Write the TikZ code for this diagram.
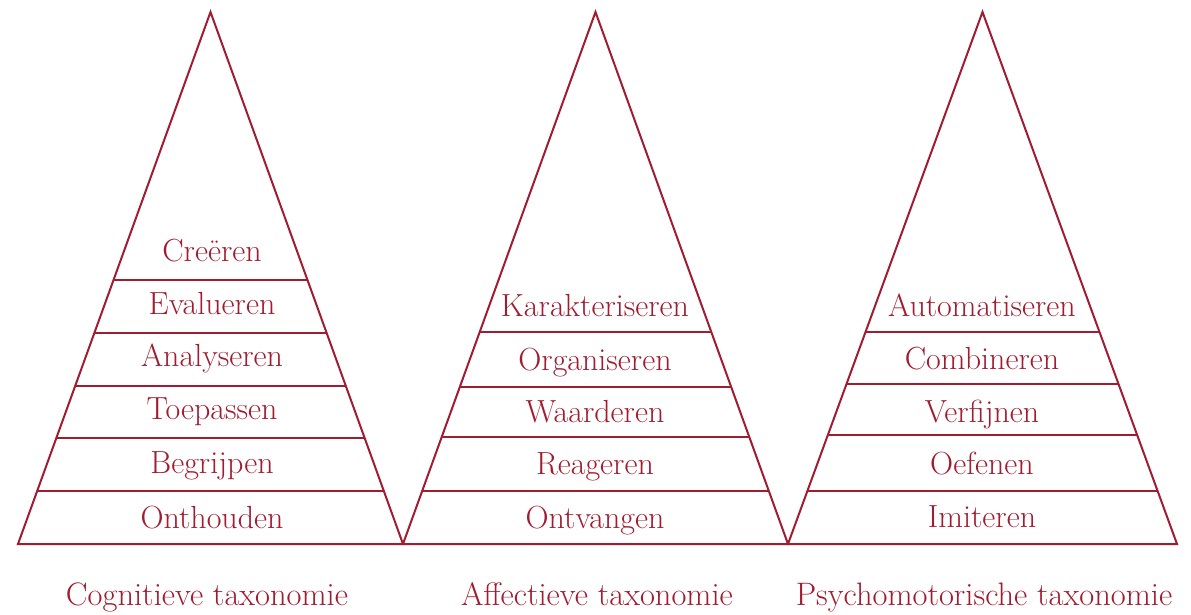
\documentclass[tikz,border=0pt]{standalone}
\usetikzlibrary{calc}
\definecolor{tred}{RGB}{160,28,48}
\begin{document}
\begin{tikzpicture}[x=1pt,y=-1pt,
  edge/.style={draw=tred,line width=2pt,line join=miter},
  band/.style={draw=tred,line width=2pt},
  lvl/.style={text=tred,anchor=base,inner sep=0pt,font=\fontsize{32}{38}\selectfont},
  taxcaption/.style={text=tred,anchor=base,inner sep=0pt,font=\fontsize{32.5}{38}\selectfont}]
\useasboundingbox (0,0) rectangle (1191,615);
% triangle corners
\coordinate (A1) at (210.5,12); \coordinate (L1) at (18,544);  \coordinate (R1) at (403,544);
\coordinate (A2) at (595.5,12); \coordinate (L2) at (403,544); \coordinate (R2) at (788,544);
\coordinate (A3) at (982.5,12); \coordinate (L3) at (788,544); \coordinate (R3) at (1177,544);
\foreach \i in {1,2,3}{
  \draw[edge] (L\i) -- (A\i) -- (R\i) -- cycle;
}
% horizontal bands
\foreach \y in {280,333,386,438,491}{
  \draw[band] ($(A1)!{(\y-12)/532}!(L1)$) -- ($(A1)!{(\y-12)/532}!(R1)$);
}
\foreach \y in {332,387,437,491}{
  \draw[band] ($(A2)!{(\y-12)/532}!(L2)$) -- ($(A2)!{(\y-12)/532}!(R2)$);
}
\foreach \y in {332,384,435,491}{
  \draw[band] ($(A3)!{(\y-12)/532}!(L3)$) -- ($(A3)!{(\y-12)/532}!(R3)$);
}
% cognitive
\node[lvl] (c6) at (212,261) {Creëren};
\node[lvl] (c5) at (212,314) {Evalueren};
\node[lvl] (c4) at (212,366) {Analyseren};
\node[lvl] (c3) at (212,419) {Toepassen};
\node[lvl] (c2) at (212,473) {Begrijpen};
\node[lvl] (c1) at (212,528) {Onthouden};
\node[taxcaption] (cc) at (207,605) {Cognitieve taxonomie};
% affective
\node[lvl] (a5) at (595,316) {Karakteriseren};
\node[lvl] (a4) at (595,370) {Organiseren};
\node[lvl] (a3) at (595,422) {Waarderen};
\node[lvl] (a2) at (595,474) {Reageren};
\node[lvl] (a1) at (595,528) {Ontvangen};
\node[taxcaption] (ac) at (597,605) {Affectieve taxonomie};
% psychomotor
\node[lvl] (p5) at (982,316) {Automatiseren};
\node[lvl] (p4) at (982,369) {Combineren};
\node[lvl] (p3) at (982,422) {Verfijnen};
\node[lvl] (p2) at (982,474) {Oefenen};
\node[lvl] (p1) at (982,527) {Imiteren};
\node[taxcaption] (pc) at (984,605) {Psychomotorische taxonomie};
\end{tikzpicture}
\end{document}
